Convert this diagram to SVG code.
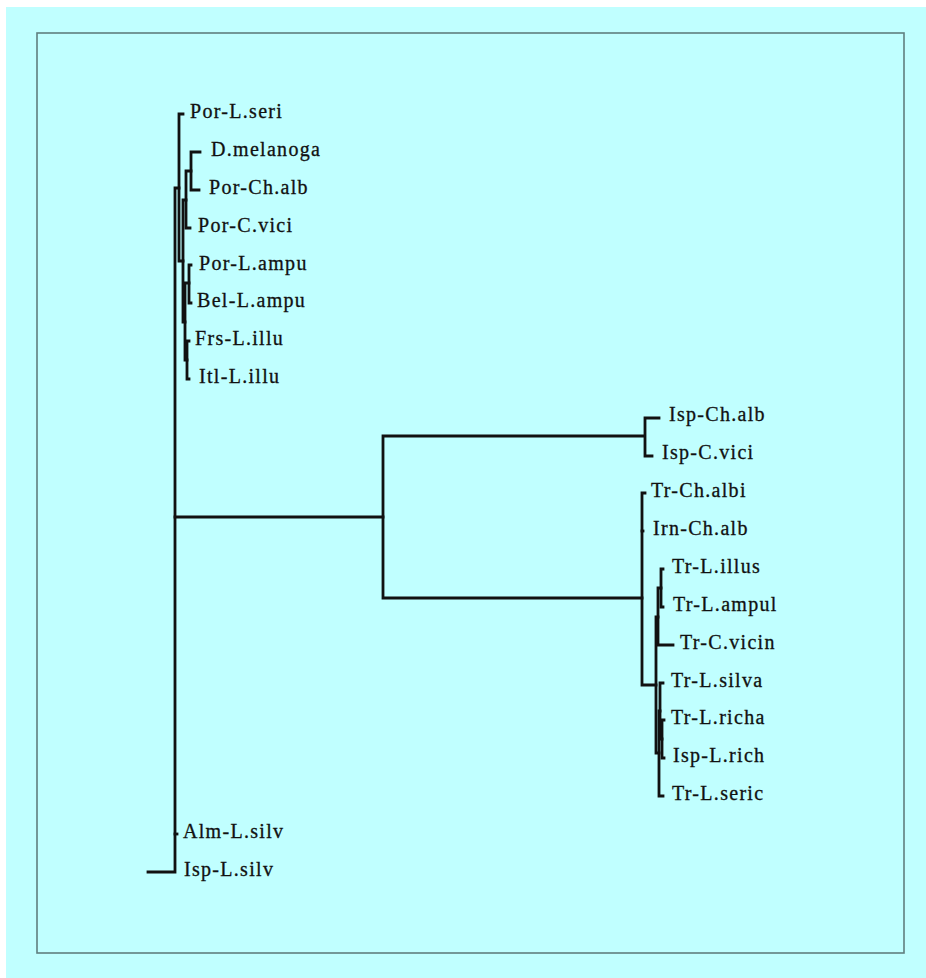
<svg xmlns="http://www.w3.org/2000/svg" width="926" height="978" viewBox="0 0 926 978">
<style>
.bg{fill:#c0ffff}
.frame{fill:none;stroke:#5f7f7f;stroke-width:1.6}
.br{fill:none;stroke:#111;stroke-width:2.8;stroke-linecap:square;stroke-linejoin:miter}
.lb{font-family:"Liberation Serif","Times New Roman",serif;font-size:20px;letter-spacing:1.3px;fill:#111;stroke:#111;stroke-width:0.3}
</style>
<rect x="0" y="0" width="926" height="978" fill="#ffffff"/>
<rect class="bg" x="6" y="7" width="920" height="971"/>
<rect class="frame" x="37" y="33" width="867" height="920"/>
<g id="connectors">
<path class="br" d="M200,152 H191 V190 H199"/>
<path class="br" d="M191,171 H186 V228 H190"/>
<path class="br" d="M191,265 H189 V303 H191"/>
<path class="br" d="M189,341 H187 V379 H189"/>
<path class="br" d="M189,283 H185 V360 H187"/>
<path class="br" d="M186,200 H183 V322 H185"/>
<path class="br" d="M183,114 H179 V261 H183"/>
<path class="br" d="M179,188 H175 V872 H148"/>
<path class="br" d="M175,834 H177"/>
<path class="br" d="M175,517 H383"/>
<path class="br" d="M643,436 H383 V598 H642"/>
<path class="br" d="M659,418 H645 V456 H652"/>
<path class="br" d="M645,493 H642 V685 H656"/>
<path class="br" d="M642,531 H643"/>
<path class="br" d="M663,569 H661 V607 H663"/>
<path class="br" d="M661,588 H658 V645 H673"/>
<path class="br" d="M658,617 H656 V753 H659"/>
<path class="br" d="M664,720 H662 V758 H664"/>
<path class="br" d="M663,683 H660 V739 H662"/>
<path class="br" d="M660,711 H659 V796 H663"/>
</g>
<g id="n-por-l-seri"><text class="lb" x="190" y="118">Por-L.seri</text></g>
<g id="n-d-melanoga"><text class="lb" x="211" y="156">D.melanoga</text></g>
<g id="n-por-ch-alb"><text class="lb" x="209" y="194">Por-Ch.alb</text></g>
<g id="n-por-c-vici"><text class="lb" x="198" y="232">Por-C.vici</text></g>
<g id="n-por-l-ampu"><text class="lb" x="199" y="270">Por-L.ampu</text></g>
<g id="n-bel-l-ampu"><text class="lb" x="197" y="307">Bel-L.ampu</text></g>
<g id="n-frs-l-illu"><text class="lb" x="195" y="345">Frs-L.illu</text></g>
<g id="n-itl-l-illu"><text class="lb" x="199" y="383">Itl-L.illu</text></g>
<g id="n-isp-ch-alb"><text class="lb" x="669" y="421">Isp-Ch.alb</text></g>
<g id="n-isp-c-vici"><text class="lb" x="662" y="459">Isp-C.vici</text></g>
<g id="n-tr-ch-albi"><text class="lb" x="651" y="497">Tr-Ch.albi</text></g>
<g id="n-irn-ch-alb"><text class="lb" x="653" y="535">Irn-Ch.alb</text></g>
<g id="n-tr-l-illus"><text class="lb" x="672" y="573">Tr-L.illus</text></g>
<g id="n-tr-l-ampul"><text class="lb" x="673" y="611">Tr-L.ampul</text></g>
<g id="n-tr-c-vicin"><text class="lb" x="680" y="649">Tr-C.vicin</text></g>
<g id="n-tr-l-silva"><text class="lb" x="671" y="687">Tr-L.silva</text></g>
<g id="n-tr-l-richa"><text class="lb" x="671" y="724">Tr-L.richa</text></g>
<g id="n-isp-l-rich"><text class="lb" x="673" y="762">Isp-L.rich</text></g>
<g id="n-tr-l-seric"><text class="lb" x="672" y="800">Tr-L.seric</text></g>
<g id="n-alm-l-silv"><text class="lb" x="183" y="838">Alm-L.silv</text></g>
<g id="n-isp-l-silv"><text class="lb" x="184" y="876">Isp-L.silv</text></g>
</svg>
